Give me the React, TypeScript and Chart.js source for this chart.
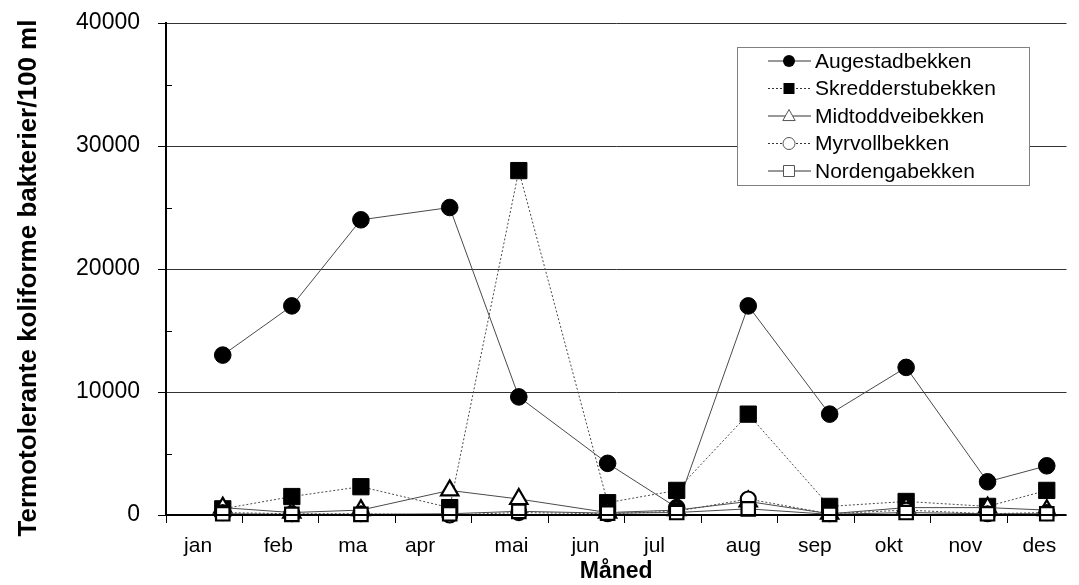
import React, { useEffect, useRef } from 'react';
import { Chart, registerables } from 'chart.js';

Chart.register(...registerables);

// ---- data ----
const SERIES_NAMES = [
  'Augestadbekken',
  'Skredderstubekken',
  'Midtoddveibekken',
  'Myrvollbekken',
  'Nordengabekken',
];
// sampling day of year
const SAMPLE_DAYS = [23, 51, 79, 115, 143, 179, 207, 236, 269, 300, 333, 357];
const AUGESTAD = [13000, 17000, 24000, 25000, 9600, 4200, 600, 17000, 8200, 12000, 2700, 4000];
const SKREDDERSTU = [500, 1500, 2300, 600, 28000, 1000, 2000, 8200, 700, 1100, 700, 2000];
const MIDTODDVEI = [600, 200, 400, 2000, 1300, 200, 400, 1100, 100, 600, 600, 400];
const MYRVOLL = [200, 100, 100, 0, 200, 100, 300, 1300, 100, 400, 100, 200];
const NORDENGA = [100, 50, 50, 100, 300, 150, 200, 500, 50, 200, 100, 100];

const MONTH_LABELS = ['jan', 'feb', 'ma', 'apr', 'mai', 'jun', 'jul', 'aug', 'sep', 'okt', 'nov', 'des'];
const MONTH_LABEL_DAYS = [13, 45.5, 75.7, 103, 140, 170, 198, 234, 263, 293, 324, 354];
const X_TICK_DAYS = [0, 31, 62, 93, 124, 155, 186, 217, 248, 279, 310, 341];
const X_MAX = 365;
const Y_MAX = 40000;
const Y_STEP = 10000;
const Y_MINOR_TICKS = [5000, 15000, 25000, 35000];

const Y_TITLE = 'Termotolerante koliforme bakterier/100 ml';
const X_TITLE = 'Måned';

const FONT = 'Arial, "Liberation Sans", sans-serif';
const LINE = '#4a4a4a';

const SERIES_VALUES = [AUGESTAD, SKREDDERSTU, MIDTODDVEI, MYRVOLL, NORDENGA];

type Style = {
  dash: number[];
  point: 'circle' | 'rect' | 'triangle';
  filled: boolean;
  radius: number;
};
const STYLES: Style[] = [
  { dash: [], point: 'circle', filled: true, radius: 8.3 },
  { dash: [2, 2], point: 'rect', filled: true, radius: 11.5 },
  { dash: [], point: 'triangle', filled: false, radius: 10 },
  { dash: [2, 2], point: 'circle', filled: false, radius: 7.5 },
  { dash: [], point: 'rect', filled: false, radius: 9.5 },
];

function drawMarker(ctx: CanvasRenderingContext2D, kind: string, x: number, y: number, size: number) {
  ctx.beginPath();
  if (kind === 'circle') {
    ctx.arc(x, y, size, 0, Math.PI * 2);
  } else if (kind === 'rect') {
    ctx.rect(x - size, y - size, size * 2, size * 2);
  } else {
    ctx.moveTo(x, y - size);
    ctx.lineTo(x + size * 0.95, y + size * 0.7);
    ctx.lineTo(x - size * 0.95, y + size * 0.7);
    ctx.closePath();
  }
}

const decorPlugin = {
  id: 'decor',
  afterDatasetsDraw(chart: any) {
    const { ctx, chartArea, scales } = chart;
    const x = scales.x;
    const y = scales.y;
    ctx.save();
    // x axis line over markers
    ctx.strokeStyle = '#000';
    ctx.lineWidth = 2;
    ctx.beginPath();
    ctx.moveTo(chartArea.left - 1, chartArea.bottom);
    ctx.lineTo(chartArea.right, chartArea.bottom);
    ctx.stroke();
    // minor y ticks (inside)
    ctx.lineWidth = 1;
    Y_MINOR_TICKS.forEach((v) => {
      const py = Math.round(y.getPixelForValue(v)) + 0.5;
      ctx.beginPath();
      ctx.moveTo(chartArea.left, py);
      ctx.lineTo(chartArea.left + 6, py);
      ctx.stroke();
    });
    // month labels
    ctx.fillStyle = '#000';
    ctx.font = `21px ${FONT}`;
    ctx.textAlign = 'center';
    ctx.textBaseline = 'alphabetic';
    MONTH_LABELS.forEach((m, i) => {
      ctx.fillText(m, x.getPixelForValue(MONTH_LABEL_DAYS[i]), chartArea.bottom + 37);
    });

    // y axis title (rotated)
    ctx.save();
    ctx.translate(29, 278);
    ctx.rotate(-Math.PI / 2);
    ctx.font = `bold 26px ${FONT}`;
    ctx.textAlign = 'center';
    ctx.textBaseline = 'middle';
    ctx.fillText(Y_TITLE, 0, 0);
    ctx.restore();

    // legend
    const bx = 737, by = 47, bw = 292, bh = 138;
    ctx.fillStyle = '#fff';
    ctx.fillRect(bx, by, bw, bh);
    ctx.strokeStyle = '#808080';
    ctx.lineWidth = 1;
    ctx.strokeRect(bx + 0.5, by + 0.5, bw, bh);
    SERIES_NAMES.forEach((name, i) => {
      const st = STYLES[i];
      const ly = by + 14 + i * 27.5;
      ctx.strokeStyle = '#333';
      ctx.lineWidth = 1;
      ctx.setLineDash(st.dash);
      ctx.beginPath();
      ctx.moveTo(768, ly);
      ctx.lineTo(811, ly);
      ctx.stroke();
      ctx.setLineDash([]);
      const size = st.point === 'circle' ? 6 : st.point === 'rect' ? 5.5 : 6.5;
      drawMarker(ctx, st.point, 789, ly, size);
      if (st.filled) {
        ctx.fillStyle = '#000';
        ctx.fill();
      } else {
        ctx.fillStyle = '#fff';
        ctx.fill();
        ctx.strokeStyle = '#555';
        ctx.stroke();
      }
      ctx.fillStyle = '#000';
      ctx.font = `21px ${FONT}`;
      ctx.textAlign = 'left';
      ctx.textBaseline = 'middle';
      ctx.fillText(name, 815, ly + 1);
    });
    ctx.restore();
  },
};

export default function App() {
  const ref = useRef<HTMLCanvasElement | null>(null);

  useEffect(() => {
    if (!ref.current) return;
    const datasets = SERIES_NAMES.map((name, i) => {
      const st = STYLES[i];
      return {
        label: name,
        data: SAMPLE_DAYS.map((d, j) => ({ x: d, y: SERIES_VALUES[i][j] })),
        borderColor: LINE,
        borderWidth: 1,
        borderDash: st.dash,
        pointStyle: st.point,
        pointRadius: st.radius,
        pointHoverRadius: st.radius,
        pointBackgroundColor: st.filled ? '#000' : '#fff',
        pointBorderColor: '#000',
        pointBorderWidth: st.filled ? 1 : 2.2,
        tension: 0,
        fill: false,
        clip: false as any,
        order: SERIES_NAMES.length - i,
      };
    });

    const chart = new Chart(ref.current, {
      type: 'line',
      data: { datasets },
      options: {
        animation: false,
        responsive: false,
        layout: { padding: { left: 0, top: 23, right: 6, bottom: 0 } },
        plugins: {
          legend: { display: false },
          tooltip: { enabled: false },
        },
        scales: {
          x: {
            type: 'linear',
            min: 0,
            max: X_MAX,
            afterBuildTicks: (s: any) => {
              s.ticks = X_TICK_DAYS.map((v) => ({ value: v }));
            },
            afterFit: (s: any) => {
              s.height = 70;
              s.paddingLeft = 0;
              s.paddingRight = 0;
            },
            ticks: { display: false },
            grid: {
              drawOnChartArea: false,
              drawTicks: true,
              tickLength: 8,
              tickColor: '#000',
              color: '#000',
            },
            border: { display: false },
            title: {
              display: true,
              text: X_TITLE,
              color: '#000',
              font: { family: FONT, size: 23, weight: 'bold' },
              padding: { top: 0, bottom: 0 },
            },
          },
          y: {
            type: 'linear',
            min: 0,
            max: Y_MAX,
            afterFit: (s: any) => {
              s.width = 166;
              s.paddingTop = 0;
              s.paddingBottom = 0;
            },
            ticks: {
              stepSize: Y_STEP,
              color: '#000',
              padding: 18,
              font: { family: FONT, size: 23 },
              callback: (v: any) => String(v),
            },
            grid: {
              color: '#333',
              lineWidth: 1,
              tickLength: 8,
              tickColor: '#000',
            },
            border: { display: true, color: '#000', width: 2 },
            title: { display: false },
          },
        },
      },
      plugins: [decorPlugin],
    });
    return () => chart.destroy();
  }, []);

  return (
    <div style={{ position: 'absolute', left: 0, top: 0, width: 1079, height: 585, background: '#fff' }}>
      <canvas ref={ref} width={1079} height={585} style={{ display: 'block' }} />
    </div>
  );
}
